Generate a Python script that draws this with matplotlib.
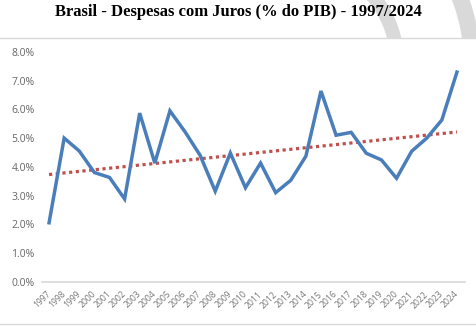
import numpy as np
import matplotlib
matplotlib.use("Agg")
import matplotlib.pyplot as plt
from matplotlib.patches import Arc, Rectangle

# Interest expenses, % of GDP
years = [str(y) for y in range(1997, 2025)]
juros = [2.05, 5.00, 4.55, 3.80, 3.63, 2.88, 5.87, 4.13, 5.95, 5.22,
         4.40, 3.15, 4.48, 3.27, 4.13, 3.10, 3.53, 4.37, 6.64, 5.10,
         5.20, 4.47, 4.24, 3.60, 4.54, 5.00, 5.63, 7.30]
y_ticks = [0, 1, 2, 3, 4, 5, 6, 7, 8]
y_tick_labels = [f"{v:.1f}%" for v in y_ticks]
title = "Brasil - Despesas com Juros (% do PIB) - 1997/2024"

W, H, DPI = 476, 326, 100
fig = plt.figure(figsize=(W / DPI, H / DPI), dpi=DPI)
fig.patch.set_facecolor("white")

# decorative grey ring segments behind the header
ring_color = "#d9d9d9"
cx, cy = 295, H - 62
fig.add_artist(Arc((cx, cy), 2 * 102, 2 * 102, theta1=0, theta2=60,
                   transform=None, color=ring_color, lw=10, zorder=0.5))
fig.add_artist(Arc((cx, cy), 2 * 177, 2 * 177, theta1=0, theta2=40,
                   transform=None, color=ring_color, lw=12, zorder=0.5))

# chart area box
fig.add_artist(Rectangle((-2, 2), W + 4, H - 38 - 2, transform=None,
                         facecolor="white", edgecolor="#d9d9d9", lw=1,
                         zorder=1))

fig.text(0.5, 1 - 12.5 / H, title, ha="center", va="center",
         fontsize=12, fontweight="bold", family="Liberation Serif",
         color="black", zorder=3)

left, right = 41.5 / W, 464.5 / W
bottom, top = 44.4 / H, 274 / H
ax = fig.add_axes([left, bottom, right - left, top - bottom])
ax.set_zorder(2)
ax.patch.set_alpha(0)

x = np.arange(len(years))
ax.plot(x, juros, color="#4a7ebb", lw=2.5, solid_joinstyle="miter",
        zorder=3)

# linear trend
coef = np.polyfit(x, juros, 1)
ax.plot(x, np.polyval(coef, x), color="#c0504d", lw=2.3,
        linestyle=(0, (1, 1.1)), dash_capstyle="butt", zorder=2)

ax.set_xlim(-0.5, len(years) - 0.5)
ax.set_ylim(0, 8)
ax.set_yticks(y_ticks)
ax.set_yticklabels(y_tick_labels)
ax.set_xticks(x)
ax.set_xticklabels(years, rotation=45, ha="right", va="center",
                   rotation_mode="anchor")

for s in ["top", "right", "left"]:
    ax.spines[s].set_visible(False)
ax.spines["bottom"].set_color("#d9d9d9")
ax.spines["bottom"].set_linewidth(1.2)

ax.tick_params(axis="y", length=0, pad=5, labelsize=7.5,
               labelcolor="#666666")
ax.tick_params(axis="x", length=0, pad=8, labelsize=6.2,
               labelcolor="#777777")
for lab in ax.get_xticklabels() + ax.get_yticklabels():
    lab.set_family("Open Sans")

fig.savefig("out.png", dpi=DPI, facecolor="white")
